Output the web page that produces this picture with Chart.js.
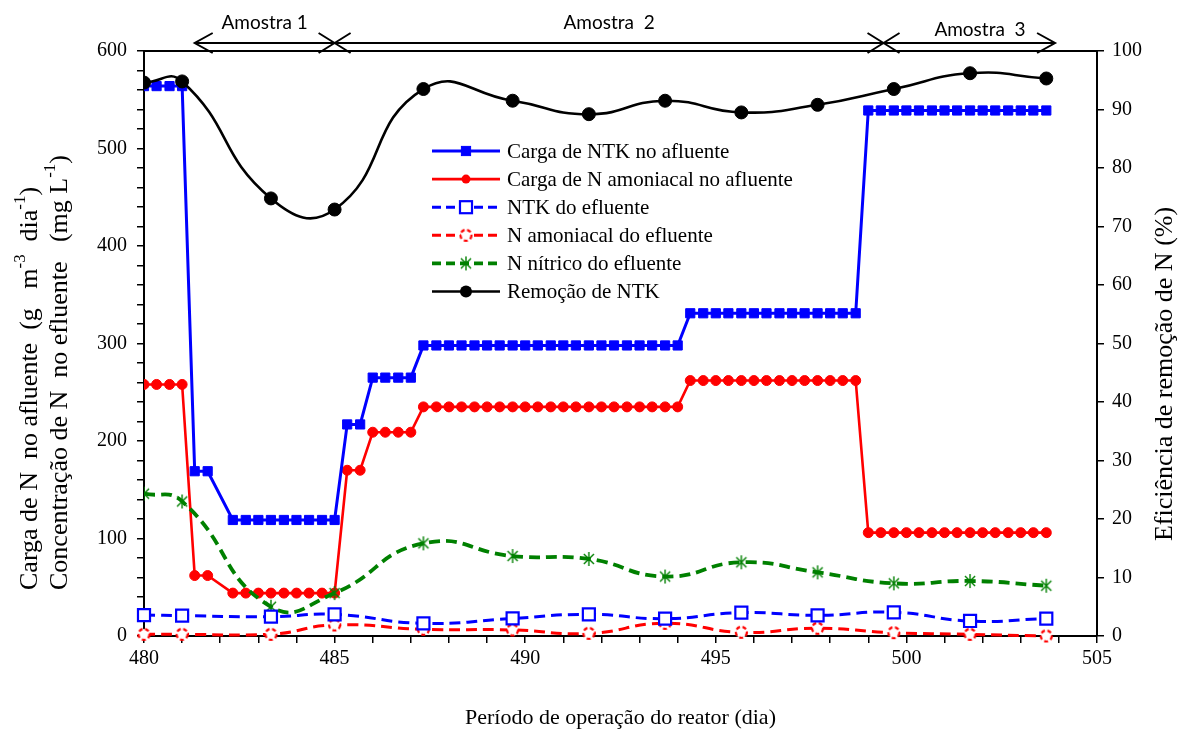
<!DOCTYPE html>
<html>
<head>
<meta charset="utf-8">
<script src="https://cdn.jsdelivr.net/npm/chart.js@4/dist/chart.umd.min.js"></script>
<style>
  html, body { margin: 0; padding: 0; background: #fff; }
  #wrap { width: 1183px; height: 731px; }
</style>
</head>
<body>
<div id="wrap"><canvas id="myChart" width="1183" height="731"></canvas></div>
<script>
// days where the influent load was recorded (every 8 h)
const loadDays = [480, 480.33, 480.67, 481, 481.33, 481.67,
  482.33, 482.67, 483, 483.33, 483.67, 484, 484.33, 484.67, 485,
  485.33, 485.67, 486, 486.33, 486.67, 487,
  487.33, 487.67, 488, 488.33, 488.67, 489, 489.33, 489.67, 490, 490.33, 490.67,
  491, 491.33, 491.67, 492, 492.33, 492.67, 493, 493.33, 493.67, 494,
  494.33, 494.67, 495, 495.33, 495.67, 496, 496.33, 496.67, 497, 497.33, 497.67, 498, 498.33, 498.67,
  499, 499.33, 499.67, 500, 500.33, 500.67, 501, 501.33, 501.67, 502, 502.33, 502.67, 503, 503.33, 503.67];
const ntkLoad = [564, 564, 564, 564, 169, 169,
  119, 119, 119, 119, 119, 119, 119, 119, 119,
  217, 217, 265, 265, 265, 265,
  298, 298, 298, 298, 298, 298, 298, 298, 298, 298, 298,
  298, 298, 298, 298, 298, 298, 298, 298, 298, 298,
  331, 331, 331, 331, 331, 331, 331, 331, 331, 331, 331, 331, 331, 331,
  539, 539, 539, 539, 539, 539, 539, 539, 539, 539, 539, 539, 539, 539, 539];
const nAmonLoad = [258, 258, 258, 258, 62, 62,
  44, 44, 44, 44, 44, 44, 44, 44, 44,
  170, 170, 209, 209, 209, 209,
  235, 235, 235, 235, 235, 235, 235, 235, 235, 235, 235,
  235, 235, 235, 235, 235, 235, 235, 235, 235, 235,
  262, 262, 262, 262, 262, 262, 262, 262, 262, 262, 262, 262, 262, 262,
  106, 106, 106, 106, 106, 106, 106, 106, 106, 106, 106, 106, 106, 106, 106];

// effluent sampling days
const effDays = [480, 481, 483.33, 485, 487.33, 489.67, 491.67, 493.67, 495.67, 497.67, 499.67, 501.67, 503.67];
const ntkEff = [21.5, 20.9, 19.8, 22.2, 13.0, 18.0, 22.2, 17.8, 23.9, 21.2, 24.3, 15.4, 17.8];
const nAmonEff = [1.7, 1.7, 1.7, 11.3, 6.9, 6.2, 2.7, 13.0, 3.8, 7.9, 3.4, 1.7, 0];
const nNitEff = [146, 138, 30, 44, 95, 82, 79, 61, 75.6, 65.3, 54, 56.4, 51.6];
const removal = [94.6, 94.8, 74.8, 72.9, 93.5, 91.5, 89.2, 91.5, 89.5, 90.8, 93.5, 96.2, 95.3];

// sample periods shown above the plot
const sampleNames = ['Amostra 1', 'Amostra  2', 'Amostra  3'];
const sampleBounds = [481.33, 485, 499.4, 503.9];

const xTickLabels = [480, 485, 490, 495, 500, 505];

const serif = '"Liberation Serif", "Times New Roman", serif';

function pts(xs, ys) { return xs.map((x, i) => ({ x: x, y: ys[i] })); }

function asteriskImg(color, size) {
  const c = document.createElement('canvas');
  c.width = size; c.height = size;
  const g = c.getContext('2d');
  const m = size / 2, r = size / 2 - 1, d = r * 0.72;
  g.strokeStyle = color; g.lineWidth = 1.4;
  g.beginPath();
  g.moveTo(m, m - r); g.lineTo(m, m + r);
  g.moveTo(m - d, m - d); g.lineTo(m + d, m + d);
  g.moveTo(m - d, m + d); g.lineTo(m + d, m - d);
  g.stroke();
  return c;
}

function dashCircleImg(color, size) {
  const c = document.createElement('canvas');
  c.width = size; c.height = size;
  const g = c.getContext('2d');
  g.fillStyle = '#fff';
  g.beginPath(); g.arc(size / 2, size / 2, size / 2 - 2, 0, Math.PI * 2); g.fill();
  g.strokeStyle = color; g.lineWidth = 2.2; g.setLineDash([4, 2.6]);
  g.stroke();
  return c;
}

const greenStar = asteriskImg('#008000', 16);
const redRing = dashCircleImg('#FF0000', 15);

const datasets = [
  { label: 'Carga de NTK no afluente', data: pts(loadDays, ntkLoad), yAxisID: 'y',
    borderColor: '#0000FF', backgroundColor: '#0000FF', borderWidth: 3,
    pointStyle: 'rect', pointRadius: 6.5, pointBorderWidth: 1, tension: 0, order: 5 },
  { label: 'Carga de N amoniacal no afluente', data: pts(loadDays, nAmonLoad), yAxisID: 'y',
    borderColor: '#FF0000', backgroundColor: '#FF0000', borderWidth: 2.6,
    pointStyle: 'circle', pointRadius: 5, pointBorderWidth: 1, tension: 0, order: 6 },
  { label: 'NTK do efluente', data: pts(effDays, ntkEff), yAxisID: 'y',
    borderColor: '#0000FF', backgroundColor: '#FFFFFF', borderWidth: 3, borderDash: [11, 6],
    pointStyle: 'rect', pointRadius: 8.5, pointBorderWidth: 2.2, tension: 0.5, order: 2, clip: false },
  { label: 'N amoniacal do efluente', data: pts(effDays, nAmonEff), yAxisID: 'y',
    borderColor: '#FF0000', backgroundColor: '#FFFFFF', borderWidth: 3, borderDash: [11, 6],
    pointStyle: redRing, pointRadius: 7, tension: 0.5, order: 3, clip: false },
  { label: 'N nítrico do efluente', data: pts(effDays, nNitEff), yAxisID: 'y',
    borderColor: '#008000', backgroundColor: '#008000', borderWidth: 3.8, borderDash: [11, 6],
    pointStyle: greenStar, pointRadius: 8, tension: 0.5, order: 4 },
  { label: 'Remoção de NTK', data: pts(effDays, removal), yAxisID: 'y1',
    borderColor: '#000000', backgroundColor: '#000000', borderWidth: 2.6,
    pointStyle: 'circle', pointRadius: 6.5, pointBorderWidth: 1, tension: 0.5, order: 1 }
];

function drawMarker(ctx, ds, x, y) {
  const st = ds.pointStyle;
  ctx.save();
  ctx.setLineDash([]);
  if (st instanceof HTMLCanvasElement) {
    ctx.drawImage(st, x - st.width / 2, y - st.height / 2);
  } else if (st === 'rect') {
    const s = Math.SQRT1_2 * ds.pointRadius;
    ctx.fillStyle = ds.backgroundColor;
    ctx.strokeStyle = ds.borderColor;
    ctx.lineWidth = ds.pointBorderWidth;
    ctx.fillRect(x - s, y - s, 2 * s, 2 * s);
    ctx.strokeRect(x - s, y - s, 2 * s, 2 * s);
  } else {
    ctx.fillStyle = ds.backgroundColor;
    ctx.beginPath(); ctx.arc(x, y, ds.pointRadius - 0.5, 0, Math.PI * 2); ctx.fill();
  }
  ctx.restore();
}

// text with superscript parts: [[text, isSup], ...]
function drawRich(ctx, parts, x, y, size) {
  let cx = x;
  parts.forEach(p => {
    ctx.font = (p[1] ? size * 0.65 : size) + 'px ' + serif;
    ctx.fillText(p[0], cx, p[1] ? y - size * 0.38 : y);
    cx += ctx.measureText(p[0]).width;
  });
}

const decorations = {
  id: 'decorations',
  afterDraw(chart) {
    const ctx = chart.ctx, a = chart.chartArea, xs = chart.scales.x;
    ctx.save();
    // top frame line
    ctx.strokeStyle = '#000'; ctx.lineWidth = 2;
    ctx.beginPath(); ctx.moveTo(a.left, a.top); ctx.lineTo(a.right, a.top); ctx.stroke();

    // legend
    const lx0 = 432, lx1 = 500, ltx = 507;
    chart.data.datasets.forEach((ds, i) => {
      const y = 151 + i * 28.1;
      ctx.save();
      ctx.strokeStyle = ds.borderColor;
      ctx.lineWidth = ds.borderWidth;
      ctx.setLineDash(ds.borderDash ? [9, 5] : []);
      ctx.beginPath(); ctx.moveTo(lx0, y); ctx.lineTo(lx1, y); ctx.stroke();
      ctx.restore();
      drawMarker(ctx, ds, (lx0 + lx1) / 2, y);
      ctx.fillStyle = '#000';
      ctx.font = '21px ' + serif;
      ctx.textAlign = 'left'; ctx.textBaseline = 'middle';
      ctx.fillText(ds.label, ltx, y + 1);
    });

    // axis titles
    ctx.fillStyle = '#000';
    ctx.textBaseline = 'middle';
    ctx.font = '22px ' + serif;
    ctx.textAlign = 'center';
    ctx.fillText('Período de operação do reator (dia)', (a.left + a.right) / 2, 718);

    ctx.save();
    ctx.translate(1165, 374);
    ctx.rotate(-Math.PI / 2);
    ctx.font = '26px ' + serif;
    ctx.fillText('Eficiência de remoção de N (%)', 0, 0);
    ctx.restore();

    const line1 = [['Carga de N  no afluente  (g   m', 0], ['-3', 1], ['  dia', 0], ['-1', 1], [')', 0]];
    const line2 = [['Concentração de N  no efluente   (mg L', 0], ['-1', 1], [')', 0]];
    ctx.textAlign = 'left';
    [[line1, 30], [line2, 60]].forEach(l => {
      ctx.save();
      ctx.translate(l[1], 590);
      ctx.rotate(-Math.PI / 2);
      drawRich(ctx, l[0], 0, 0, 26);
      ctx.restore();
    });

    // sample period arrows
    const ay = 43;
    const px = sampleBounds.map(v => xs.getPixelForValue(v));
    ctx.strokeStyle = '#000'; ctx.lineWidth = 2;
    ctx.beginPath();
    ctx.moveTo(px[0], ay); ctx.lineTo(px[3], ay);
    ctx.moveTo(px[0] + 18, ay - 10); ctx.lineTo(px[0], ay); ctx.lineTo(px[0] + 18, ay + 10);
    ctx.moveTo(px[3] - 18, ay - 10); ctx.lineTo(px[3], ay); ctx.lineTo(px[3] - 18, ay + 10);
    [px[1], px[2]].forEach(p => {
      ctx.moveTo(p - 16, ay - 10); ctx.lineTo(p + 16, ay + 10);
      ctx.moveTo(p - 16, ay + 10); ctx.lineTo(p + 16, ay - 10);
    });
    ctx.stroke();

    ctx.fillStyle = '#000';
    ctx.font = '19px Lato, "Open Sans", sans-serif';
    ctx.textAlign = 'center'; ctx.textBaseline = 'middle';
    ctx.fillText(sampleNames[0], (px[0] + px[1]) / 2, 23);
    ctx.fillText(sampleNames[1], (px[1] + px[2]) / 2, 23);
    ctx.fillText(sampleNames[2], 980, 30);
    ctx.restore();
  }
};

const ctx = document.getElementById('myChart');
const myChart = new Chart(ctx, {
  type: 'line',
  data: { datasets: datasets },
  options: {
    responsive: false,
    animation: false,
    events: [],
    layout: { padding: { top: 51, left: 0, right: 0, bottom: 0 } },
    plugins: { legend: { display: false }, tooltip: { enabled: false } },
    scales: {
      x: {
        type: 'linear', min: 480, max: 505,
        afterFit: s => { s.height = 731 - 636; },
        ticks: {
          stepSize: 1, autoSkip: false, maxRotation: 0, padding: 4,
          color: '#000', font: { family: serif, size: 20 },
          callback: v => xTickLabels.includes(v) ? String(v) : ''
        },
        grid: { drawOnChartArea: false, drawTicks: true, tickLength: 7, color: '#000', lineWidth: 1.5 },
        border: { display: true, color: '#000', width: 2 }
      },
      y: {
        position: 'left', min: 0, max: 600,
        afterFit: s => { s.width = 144; },
        ticks: {
          stepSize: 20, autoSkip: false, padding: 10,
          color: '#000', font: { family: serif, size: 20 },
          callback: v => v % 100 === 0 ? String(v) : ''
        },
        grid: { drawOnChartArea: false, drawTicks: true, tickLength: 7, color: '#000', lineWidth: 1.5 },
        border: { display: true, color: '#000', width: 2 }
      },
      y1: {
        position: 'right', min: 0, max: 100,
        afterFit: s => { s.width = 1183 - 1097; },
        ticks: {
          stepSize: 10, autoSkip: false, padding: 8,
          color: '#000', font: { family: serif, size: 20 }
        },
        grid: { drawOnChartArea: false, drawTicks: true, tickLength: 7, color: '#000', lineWidth: 1.5 },
        border: { display: true, color: '#000', width: 2 }
      }
    }
  },
  plugins: [decorations]
});
</script>
</body>
</html>
